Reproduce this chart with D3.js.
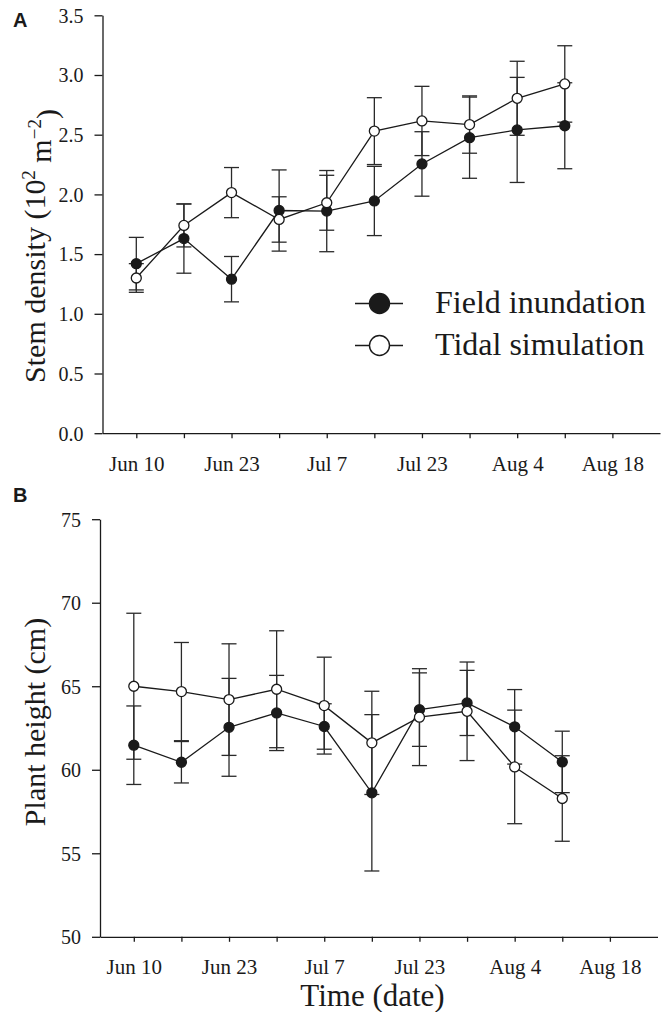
<!DOCTYPE html>
<html><head><meta charset="utf-8">
<script src="https://cdn.jsdelivr.net/npm/d3@7"></script>
<style>body{margin:0;background:#fff}</style>
</head><body><svg id="c" width="663" height="1012"></svg>
<script>
const xTickLabels = ["Jun 10","","Jun 23","","Jul 7","","Jul 23","","Aug 4","","Aug 18"];
const sampleIndex = [0,1,2,3,4,5,6,7,8,9];
const densityField = [1.42,1.63,1.29,1.865,1.86,1.945,2.255,2.475,2.54,2.575];
const densityFieldErr = [0.22,0.29,0.19,0.34,0.34,0.29,0.27,0.34,0.44,0.36];
const densityTidal = [1.30,1.74,2.015,1.79,1.93,2.53,2.615,2.585,2.805,2.925];
const densityTidalErr = [0.12,0.18,0.21,0.19,0.23,0.28,0.29,0.24,0.31,0.32];
const heightField = [61.47,60.45,62.54,63.4,62.59,58.62,63.6,64.0,62.57,60.47];
const heightFieldErr = [2.35,1.24,2.93,2.25,1.36,4.68,2.2,1.95,2.23,1.84];
const heightTidal = [65.0,64.68,64.2,64.82,63.84,61.61,63.15,63.5,60.17,58.28];
const heightTidalErr = [4.37,2.94,3.34,3.5,2.9,3.09,2.9,2.95,3.4,2.56];
const densityTicks = [0,0.5,1.0,1.5,2.0,2.5,3.0,3.5];
const heightTicks = [50,55,60,65,70,75];
const seriesNames = ["Field inundation","Tidal simulation"];

const svg = d3.select("#c");
const SERIF = "Liberation Serif";
const INK = "#1a1a1a";

function panel(opt){
  const x = d3.scaleLinear().domain([-0.71, 11]).range(opt.xr);
  const y = d3.scaleLinear().domain(opt.yd).range(opt.yr);
  const g = svg.append("g");
  // y axis
  const ya = g.append("g").attr("transform",`translate(${opt.xr[0]},0)`)
    .call(d3.axisLeft(y).tickValues(opt.yt).tickFormat(opt.fmt).tickSize(8).tickSizeOuter(0))
    .attr("font-family",SERIF).attr("font-size",20);
  ya.select(".domain").attr("stroke",INK).attr("stroke-width",1.3);
  ya.selectAll(".tick line").attr("stroke",INK).attr("stroke-width",1.3);
  ya.selectAll(".tick text").attr("x",-19).attr("dy","0.34em").attr("fill",INK).attr("font-family",SERIF);
  // x axis
  const xa = g.append("g").attr("transform",`translate(0,${opt.yr[0]})`)
    .call(d3.axisBottom(x).tickValues(d3.range(xTickLabels.length)).tickFormat(i=>xTickLabels[i]).tickSize(5).tickSizeOuter(0))
    .attr("font-family",SERIF).attr("font-size",21);
  xa.select(".domain").attr("stroke",INK).attr("stroke-width",1.3);
  xa.selectAll(".tick line").attr("stroke",INK).attr("stroke-width",1.3);
  xa.selectAll(".tick text").attr("y",37.5).attr("dy",0).attr("fill",INK).attr("font-family",SERIF);

  const series = [
    {v:opt.field, e:opt.fieldErr, fill:INK},
    {v:opt.tidal, e:opt.tidalErr, fill:"#fff"}
  ];
  // error bars
  series.forEach(s=>{
    const eb = g.append("g").attr("stroke","#2a2a2a").attr("stroke-width",1.3).attr("fill","none");
    sampleIndex.forEach(i=>{
      const cx = x(i), y1 = y(s.v[i]+s.e[i]), y2 = y(s.v[i]-s.e[i]);
      eb.append("line").attr("x1",cx).attr("x2",cx).attr("y1",y1).attr("y2",y2);
      eb.append("line").attr("x1",cx-7.5).attr("x2",cx+7.5).attr("y1",y1).attr("y2",y1);
      eb.append("line").attr("x1",cx-7.5).attr("x2",cx+7.5).attr("y1",y2).attr("y2",y2);
    });
  });
  // lines
  const line = d3.line().x(i=>x(i));
  series.forEach(s=>{
    g.append("path").attr("d", line.y(i=>y(s.v[i]))(sampleIndex))
      .attr("fill","none").attr("stroke",INK).attr("stroke-width",1.3);
  });
  // markers
  series.forEach(s=>{
    g.append("g").selectAll("circle").data(sampleIndex).join("circle")
      .attr("cx",i=>x(i)).attr("cy",i=>y(s.v[i])).attr("r",5)
      .attr("fill",s.fill).attr("stroke",INK).attr("stroke-width",1.3);
  });
  // y label
  const lab = g.append("text").attr("transform",`translate(45,${opt.labY}) rotate(-90)`)
    .attr("text-anchor","middle").attr("font-family",SERIF).attr("font-size",30).attr("fill",INK);
  opt.label(lab);
  // panel letter
  svg.append("text").attr("x",13).attr("y",opt.letterY).text(opt.letter)
    .attr("font-family","Liberation Sans").attr("font-weight","bold").attr("font-size",20).attr("fill",INK);
  return {x,y,g};
}

const A = panel({
  xr:[102.5,660], yd:[0,3.5], yr:[433.2,15.3], yt:densityTicks, fmt:d3.format(".1f"),
  field:densityField, fieldErr:densityFieldErr, tidal:densityTidal, tidalErr:densityTidalErr,
  labY:246, letter:"A", letterY:27,
  label:t=>{
    t.append("tspan").text("Stem density (10");
    t.append("tspan").attr("dy","-0.55em").attr("font-size",19).text("2");
    t.append("tspan").attr("dy","0.55em").text(" m");
    t.append("tspan").attr("dy","-0.55em").attr("font-size",19).text("\u22122");
    t.append("tspan").attr("dy","0.55em").text(")");
  }
});
const B = panel({
  xr:[100,657.5], yd:[50,75], yr:[936.8,519.2], yt:heightTicks, fmt:d3.format("d"),
  field:heightField, fieldErr:heightFieldErr, tidal:heightTidal, tidalErr:heightTidalErr,
  labY:722, letter:"B", letterY:502,
  label:t=>t.text("Plant height (cm)")
});

// legend (panel A)
const legendY = [303.5, 345.5];
const lg = svg.append("g");
seriesNames.forEach((name,k)=>{
  const yy = legendY[k];
  lg.append("line").attr("x1",355).attr("x2",403).attr("y1",yy).attr("y2",yy).attr("stroke",INK).attr("stroke-width",1.5);
  lg.append("circle").attr("cx",379.5).attr("cy",yy).attr("r",10).attr("fill",k===0?INK:"#fff").attr("stroke",INK).attr("stroke-width",1.4);
  lg.append("text").attr("x",435).attr("y",yy+9).text(name)
    .attr("font-family",SERIF).attr("font-size",32).attr("fill",INK);
});

// x title
svg.append("text").attr("x",372.5).attr("y",1006).attr("text-anchor","middle").text("Time (date)")
  .attr("font-family",SERIF).attr("font-size",31).attr("fill",INK);
</script></body></html>
